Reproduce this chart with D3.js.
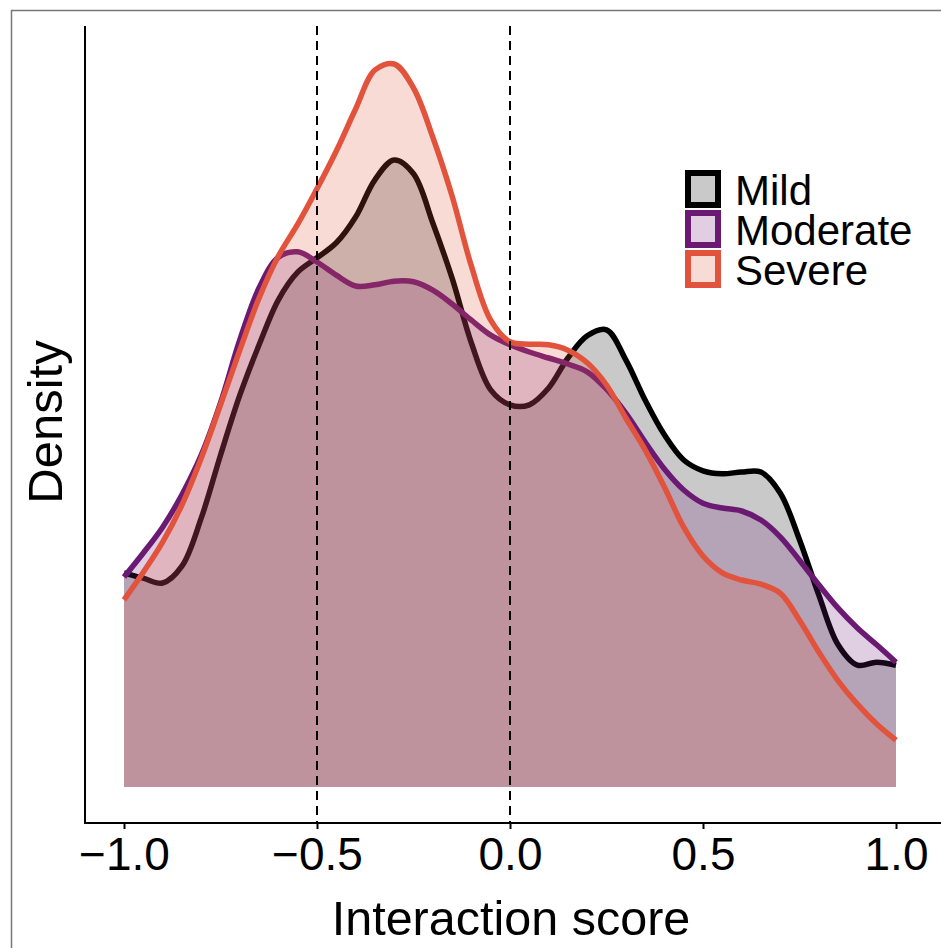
<!DOCTYPE html>
<html>
<head>
<meta charset="utf-8">
<script src="https://cdn.jsdelivr.net/npm/d3@7"></script>
<style>
  body { margin: 0; background: #fff; }
  svg text { font-family: "Liberation Sans", Arial, Helvetica, sans-serif; fill: #000; }
</style>
</head>
<body>
<div id="vis"></div>
<script>
// interaction score grid (every 0.05 from -1 to 1)
var scores = d3.range(0, 41).map(function(i) { return Math.round((-1 + i * 0.05) * 100) / 100; });

// densities
var mild = [0.357, 0.348, 0.340, 0.368, 0.448, 0.553, 0.653, 0.737, 0.812, 0.858,
            0.882, 0.907, 0.950, 1.012, 1.045, 1.022, 0.940, 0.848, 0.740, 0.662,
            0.637, 0.637, 0.665, 0.715, 0.752, 0.762, 0.712, 0.645, 0.587, 0.545,
            0.527, 0.522, 0.525, 0.525, 0.490, 0.412, 0.320, 0.237, 0.203, 0.208, 0.203];
var moderate = [0.350, 0.390, 0.433, 0.487, 0.553, 0.640, 0.745, 0.832, 0.883, 0.892,
                0.875, 0.853, 0.835, 0.837, 0.843, 0.842, 0.828, 0.805, 0.778, 0.753,
                0.737, 0.725, 0.715, 0.705, 0.692, 0.663, 0.623, 0.575, 0.530, 0.495,
                0.473, 0.465, 0.460, 0.445, 0.417, 0.378, 0.337, 0.298, 0.265, 0.237, 0.208];
var severe = [0.312, 0.358, 0.408, 0.470, 0.548, 0.637, 0.728, 0.815, 0.885, 0.938,
              0.997, 1.060, 1.130, 1.195, 1.205, 1.165, 1.083, 0.985, 0.868, 0.778,
              0.742, 0.738, 0.737, 0.728, 0.707, 0.670, 0.615, 0.562, 0.500, 0.433,
              0.385, 0.357, 0.345, 0.338, 0.323, 0.278, 0.225, 0.177, 0.138, 0.105, 0.078];

var groups = ["Mild", "Moderate", "Severe"],
    colors = ["#000000", "#6b1a74", "#e1533c"],
    xTicks = [-1.0, -0.5, 0.0, 0.5, 1.0],
    refLines = [-0.5, 0.0];

var w = 941,
    h = 948,
    axisX = 85,      // left axis position
    axisY = 823,     // bottom axis position
    topY = 26,
    fillAlpha = 0.21;

var x = d3.scaleLinear().domain([-1, 1]).range([124, 896]),
    y = d3.scaleLinear().domain([0, 1]).range([787, 187]);

var svg = d3.select("#vis")
            .append("svg")
            .attr("width", w)
            .attr("height", h);

// thin frame round the figure
svg.append("rect")
   .attr("x", 11.5).attr("y", 10.5)
   .attr("width", w).attr("height", h)
   .attr("fill", "none")
   .attr("stroke", "#777")
   .attr("stroke-width", 1.5);

var area = d3.area()
             .x(function(d) { return x(d.x); })
             .y0(y(0))
             .y1(function(d) { return y(d.y); })
             .curve(d3.curveCatmullRom);
var line = d3.line()
             .x(function(d) { return x(d.x); })
             .y(function(d) { return y(d.y); })
             .curve(d3.curveCatmullRom);

var series = [mild, moderate, severe].map(function(vals) {
    return vals.map(function(v, i) { return { x: scores[i], y: v }; });
});

/*************
DENSITY CURVES
*************/
series.forEach(function(s, i) {
    svg.append("path")
       .datum(s)
       .attr("d", area)
       .attr("fill", colors[i])
       .attr("fill-opacity", fillAlpha);
    svg.append("path")
       .datum(s)
       .attr("d", line)
       .attr("fill", "none")
       .attr("stroke", colors[i])
       .attr("stroke-width", 5.5)
       .attr("stroke-linejoin", "round");
});

// dashed reference lines
svg.selectAll(".ref")
   .data(refLines)
   .enter()
   .append("line")
   .attr("class", "ref")
   .attr("x1", function(d) { return x(d); })
   .attr("x2", function(d) { return x(d); })
   .attr("y1", topY)
   .attr("y2", axisY)
   .attr("stroke", "#000")
   .attr("stroke-width", 2)
   .attr("stroke-dasharray", "9,6");

/***
AXES
***/
svg.append("line")
   .attr("x1", axisX).attr("y1", topY)
   .attr("x2", axisX).attr("y2", axisY + 0.75)
   .attr("stroke", "#000").attr("stroke-width", 2);
svg.append("line")
   .attr("x1", axisX - 1).attr("y1", axisY)
   .attr("x2", w).attr("y2", axisY)
   .attr("stroke", "#000").attr("stroke-width", 2);

var xAxis = svg.append("g")
   .attr("transform", "translate(0," + axisY + ")")
   .call(d3.axisBottom(x)
           .tickValues(xTicks)
           .tickSize(6)
           .tickFormat(function(d) { return d3.format(".1f")(d).replace("-", "\u2212"); }));
xAxis.select(".domain").remove();
xAxis.selectAll(".tick line").attr("stroke", "#000").attr("stroke-width", 2);
xAxis.selectAll(".tick text")
     .attr("y", 47)
     .attr("dy", 0)
     .style("font-size", "46px")
     .style("font-family", "'Liberation Sans', Arial, sans-serif")
     .attr("fill", "#000");

svg.append("text")
   .attr("x", 511)
   .attr("y", 935)
   .attr("text-anchor", "middle")
   .style("font-size", "48.5px")
   .text("Interaction score");

svg.append("text")
   .attr("transform", "translate(62,422) rotate(-90)")
   .attr("text-anchor", "middle")
   .style("font-size", "49px")
   .text("Density");

/*****
LEGEND
*****/
var legend = svg.selectAll(".legend")
   .data(groups)
   .enter()
   .append("g")
   .attr("class", "legend")
   .attr("transform", function(d, i) { return "translate(685," + (170 + i * 40) + ")"; });

legend.append("rect")
      .attr("x", 0).attr("y", 0)
      .attr("width", 36).attr("height", 38)
      .attr("fill", "#fff");
legend.append("rect")
      .attr("x", 3).attr("y", 3)
      .attr("width", 30).attr("height", 32)
      .attr("fill", function(d, i) { return colors[i]; })
      .attr("fill-opacity", fillAlpha)
      .attr("stroke", function(d, i) { return colors[i]; })
      .attr("stroke-width", 6);
legend.append("text")
      .attr("x", 50)
      .attr("y", 35)
      .style("font-size", "42px")
      .text(String);
</script>
</body>
</html>
